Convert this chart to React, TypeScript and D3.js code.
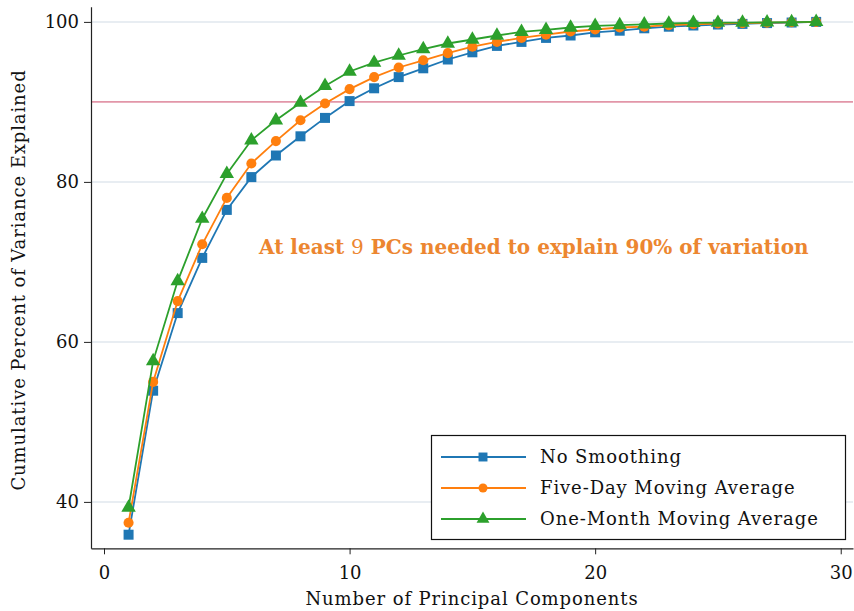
import React, { useEffect, useRef } from 'react';
import * as d3 from 'd3';

// number of principal components
const components = d3.range(1, 30);

// cumulative percent of variance explained
const noSmoothing = [
  35.9, 53.9, 63.6, 70.5, 76.5, 80.6, 83.3, 85.7, 88.0, 90.1,
  91.7, 93.1, 94.2, 95.3, 96.2, 97.0, 97.5, 98.0, 98.3, 98.7,
  98.9, 99.2, 99.4, 99.55, 99.67, 99.75, 99.85, 99.92, 100.0,
];
const fiveDay = [
  37.4, 55.0, 65.1, 72.2, 78.0, 82.3, 85.1, 87.7, 89.8, 91.6,
  93.1, 94.3, 95.2, 96.1, 96.9, 97.5, 98.0, 98.4, 98.8, 99.05,
  99.3, 99.4, 99.6, 99.7, 99.8, 99.85, 99.9, 99.95, 100.0,
];
const oneMonth = [
  39.3, 57.6, 67.6, 75.4, 81.0, 85.2, 87.7, 89.9, 92.0, 93.8,
  94.9, 95.8, 96.6, 97.3, 97.8, 98.3, 98.75, 99.0, 99.3, 99.5,
  99.6, 99.7, 99.8, 99.88, 99.9, 99.92, 99.95, 99.98, 100.0,
];

const seriesNames = ['No Smoothing', 'Five-Day Moving Average', 'One-Month Moving Average'];
const seriesColors = ['#1f77b4', '#ff7f0e', '#2ca02c'];
const seriesSymbols = [d3.symbolSquare, d3.symbolCircle, d3.symbolTriangle];
const symbolSizes = [100, 80, 90];

const xTicks = [0, 10, 20, 30];
const yTicks = [40, 60, 80, 100];
const threshold = 90;

const serif = '"DejaVu Serif", serif';

export default function App() {
  const ref = useRef<SVGSVGElement>(null);

  useEffect(() => {
    const svg = d3.select(ref.current);
    svg.selectAll('*').remove();

    const x = d3.scaleLinear().domain([-0.53, 30.5]).range([91, 853]);
    const y = d3.scaleLinear().domain([34.2, 101.9]).range([548.3, 6.7]);

    // horizontal grid
    svg.append('g')
      .selectAll('line')
      .data(yTicks)
      .enter()
      .append('line')
      .attr('x1', x.range()[0])
      .attr('x2', x.range()[1])
      .attr('y1', d => y(d))
      .attr('y2', d => y(d))
      .attr('stroke', '#e8edf2')
      .attr('stroke-width', 2);

    // 90% threshold
    svg.append('line')
      .attr('x1', x.range()[0])
      .attr('x2', x.range()[1])
      .attr('y1', y(threshold))
      .attr('y2', y(threshold))
      .attr('stroke', '#e296a8')
      .attr('stroke-width', 1.6);

    const xAxis = svg.append('g')
      .attr('transform', 'translate(0,' + y.range()[0] + ')')
      .call(d3.axisBottom(x).tickValues(xTicks).tickSize(6).tickPadding(12).tickSizeOuter(0));
    xAxis.select('.domain').attr('stroke', '#222').attr('stroke-width', 1.2);
    xAxis.selectAll('line').attr('stroke', '#222');
    xAxis.selectAll('text').attr('font-family', serif).attr('font-size', 18).attr('fill', '#111');

    const yAxis = svg.append('g')
      .attr('transform', 'translate(' + x.range()[0] + ',0)')
      .call(d3.axisLeft(y).tickValues(yTicks).tickSize(7).tickPadding(5).tickSizeOuter(0));
    yAxis.select('.domain').attr('stroke', '#222').attr('stroke-width', 1.2);
    yAxis.selectAll('line').attr('stroke', '#222');
    yAxis.selectAll('text').attr('font-family', serif).attr('font-size', 18).attr('fill', '#111');

    svg.append('text')
      .attr('x', 472)
      .attr('y', 605)
      .attr('text-anchor', 'middle')
      .attr('font-family', serif)
      .attr('font-size', 18)
      .attr('letter-spacing', 0.9)
      .attr('fill', '#111')
      .text('Number of Principal Components');

    svg.append('text')
      .attr('transform', 'translate(25,280) rotate(-90)')
      .attr('text-anchor', 'middle')
      .attr('font-family', serif)
      .attr('font-size', 18)
      .attr('letter-spacing', 0.9)
      .attr('fill', '#111')
      .text('Cumulative Percent of Variance Explained');

    const allSeries = [noSmoothing, fiveDay, oneMonth];
    const line = d3.line<number>()
      .x((d, i) => x(components[i]))
      .y(d => y(d));

    allSeries.forEach((values, s) => {
      const g = svg.append('g');
      g.append('path')
        .datum(values)
        .attr('d', line)
        .attr('fill', 'none')
        .attr('stroke', seriesColors[s])
        .attr('stroke-width', 1.8);
      g.selectAll('path.marker')
        .data(values)
        .enter()
        .append('path')
        .attr('class', 'marker')
        .attr('transform', (d, i) => 'translate(' + x(components[i]) + ',' + y(d) + ')')
        .attr('d', d3.symbol().type(seriesSymbols[s]).size(symbolSizes[s]))
        .attr('fill', seriesColors[s]);
    });

    // annotation
    const note = svg.append('text')
      .attr('x', 259)
      .attr('y', 254)
      .attr('font-family', '"DejaVu Serif", serif')
      .attr('font-weight', 'bold')
      .attr('font-size', 20)
      .attr('fill', '#ec8630');
    note.append('tspan').text('At least ');
    note.append('tspan').attr('font-weight', 'normal').text('9');
    note.append('tspan').text(' PCs needed to explain 90% of variation');

    // legend
    const legend = svg.append('g');
    legend.append('rect')
      .attr('x', 431.5)
      .attr('y', 435.5)
      .attr('width', 414)
      .attr('height', 104)
      .attr('fill', 'white')
      .attr('stroke', '#111')
      .attr('stroke-width', 1.2);
    seriesNames.forEach((name, s) => {
      const ly = 457 + s * 31;
      legend.append('line')
        .attr('x1', 441)
        .attr('x2', 526)
        .attr('y1', ly)
        .attr('y2', ly)
        .attr('stroke', seriesColors[s])
        .attr('stroke-width', 1.8);
      legend.append('path')
        .attr('transform', 'translate(483,' + ly + ')')
        .attr('d', d3.symbol().type(seriesSymbols[s]).size(symbolSizes[s] * 0.8))
        .attr('fill', seriesColors[s]);
      legend.append('text')
        .attr('x', 540)
        .attr('y', ly + 6)
        .attr('font-family', serif)
        .attr('font-size', 18)
        .attr('letter-spacing', 0.9)
        .attr('fill', '#111')
        .text(name);
    });
  }, []);

  return (
    <svg
      ref={ref}
      width={854}
      height={611}
      style={{ position: 'absolute', left: 0, top: 0, background: 'white' }}
    />
  );
}
